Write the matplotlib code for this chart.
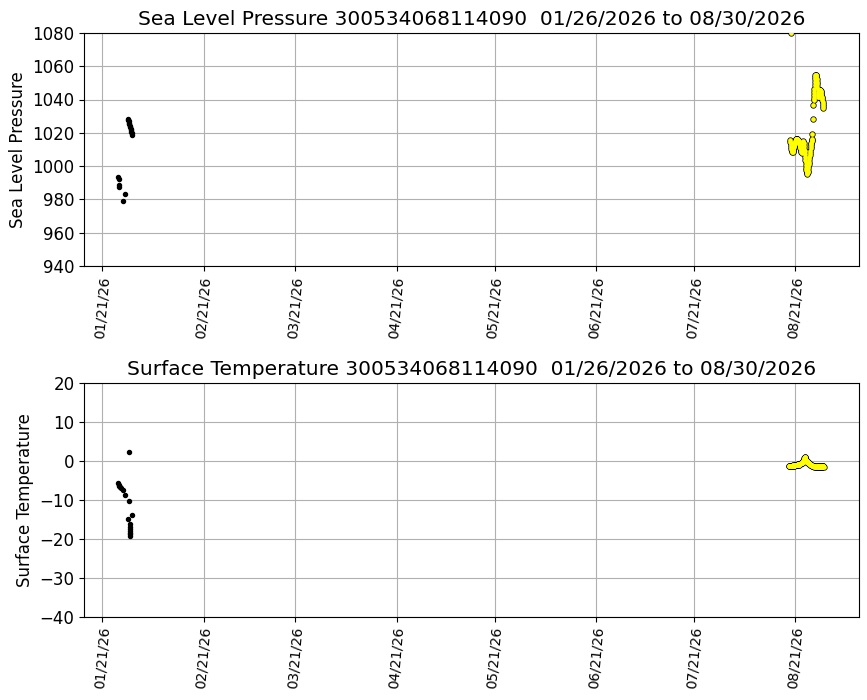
import matplotlib
matplotlib.use("Agg")
import matplotlib.pyplot as plt
import matplotlib.dates as mdates
import pandas as pd
import numpy as np

# ---------------- data ----------------
black_base = "2026-01-25 00:00"
yellow_base = "2026-08-19 00:00"

# black series: pressure (hours since black_base, value)
blk_p_hours = [21, 23, 28, 29, 56, 68,
               90, 93, 96, 99, 102, 105, 108, 111, 114, 117, 120, 122]
blk_p_vals = [993.3, 992.2, 988.5, 987.5, 979.1, 983.5,
              1028.5, 1027.6, 1026.8, 1025.9, 1025.1, 1024.2, 1023.3, 1022.4,
              1021.5, 1020.6, 1019.6, 1018.8]

# black series: temperature
blk_t_hours = [19, 23, 26, 31, 41, 58, 68, 95, 98, 100, 106, 107, 108, 107,
               108, 107, 108, 122]
blk_t_vals = [-5.7, -6.1, -6.4, -6.8, -7.0, -7.4, -8.7, -14.9, 2.2, -10.3,
              -16.3, -16.9, -17.4, -17.9, -18.4, -18.9, -19.3, -13.8]

# yellow series: pressure (hours since yellow_base, value)
yel_p_hours = [9, 11, 13, 14, 15, 17, 19, 21, 23, 25, 27, 29, 31, 33, 35, 37,
               39, 41, 43, 45, 47, 49, 51, 53, 55, 57, 59, 61, 63, 65, 67, 69,
               71, 73, 75, 77, 79, 81, 83, 85, 87, 89, 91, 93, 95, 97, 99,
               101, 103, 105, 107, 109, 111, 113, 115, 117, 119, 121, 123,
               125, 127, 129, 131, 133, 135, 137, 139, 141, 143, 145, 147,
               149, 151, 153, 155, 157, 159, 161, 163, 165, 167, 169, 171,
               173, 177, 180, 181.5,
               183, 184.5, 186, 187.5, 189, 190.5, 192, 193.5, 195, 197, 199,
               201, 203, 205, 207, 209, 211, 213, 215, 217, 219, 221, 223,
               225, 227, 229, 231, 233, 235, 237, 239, 241, 243, 245, 247,
               249, 251, 253]
yel_p_vals = [1015.5, 1014.6, 1013.6, 1080.0, 1012.4, 1011.3, 1010.3, 1009.5,
              1008.8, 1008.5, 1008.6, 1009.2, 1009.9, 1010.5, 1011.2, 1011.9,
              1012.5, 1013.2, 1013.9, 1014.5, 1015.2, 1015.6, 1015.9, 1016.2,
              1016.4, 1016.5, 1016.5, 1016.4, 1016.2, 1015.9, 1015.6, 1015.2,
              1014.8, 1014.3, 1013.8, 1013.2, 1012.7, 1012.1, 1011.4, 1010.7,
              1010.0, 1009.3, 1008.7, 1008.2, 1008.0, 1008.9, 1010.2,
              1011.5, 1012.8, 1014.1, 1015.0, 1013.7, 1012.0, 1010.5, 1008.8,
              1007.2, 1005.5, 1003.8, 1002.2, 1000.5, 998.9, 997.5, 996.2,
              995.6, 995.5, 996.3, 997.3, 998.7, 1000.0, 1001.3, 1002.7,
              1004.0, 1005.3, 1006.7, 1008.0, 1009.3, 1010.7, 1012.0, 1013.0,
              1014.0, 1015.0, 1015.7, 1016.2,
              1019.5, 1028.5, 1036.8, 1039.5,
              1041.0, 1042.5, 1044.5, 1046.5, 1048.5, 1050.5, 1052.2, 1053.8,
              1054.7, 1055.0, 1054.5, 1053.5, 1052.2, 1050.8, 1049.2, 1047.5,
              1045.8, 1044.2, 1042.5, 1041.3, 1041.5, 1042.5, 1043.7, 1044.8,
              1045.6, 1046.0, 1045.5, 1045.0, 1044.3, 1043.6, 1042.8, 1041.8,
              1040.8, 1039.8, 1038.7, 1037.5, 1036.2, 1034.8]

# yellow series: temperature
yel_t_hours = [0, 2.5, 5, 7.5, 10, 12.5, 15, 17.5, 20, 22.5, 25, 27.5, 30,
               32.5, 35, 37.5, 40, 42.5, 45, 47.5, 50, 52.5, 55, 57.5, 60,
               62.5, 65, 67.5, 70, 72.5, 75, 77.5, 80, 82.5, 85, 87.5, 90,
               92.5, 95, 97.5, 100, 102.5, 105, 107.5, 110, 112.5, 115, 117.5,
               120, 122.5, 125, 127.5, 130, 132.5, 135, 137.5, 140, 142.5, 145,
               147.5, 150, 152.5, 155, 157.5, 160, 162.5, 165, 167.5, 170,
               172.5, 175, 177.5, 180, 182.5, 185, 187.5, 190, 192.5, 195,
               197.5, 200, 202.5, 205, 207.5, 210, 212.5, 215, 217.5, 220,
               222.5, 225, 227.5, 230, 232.5, 235, 237.5, 240, 242.5, 245,
               247.5, 250, 252.5, 255]
yel_t_vals = [-1.4, -1.35, -1.3, -1.25, -1.2, -1.3, -1.4, -1.35, -1.3, -1.25,
              -1.2, -1.15, -1.1, -1.2, -1.3, -1.25, -1.2, -1.15, -1.1, -1.05,
              -1.0, -1.05, -1.1, -1.05, -1.0, -0.95, -0.9, -0.85, -0.8, -0.9,
              -1.0, -0.95, -0.9, -0.8, -0.7, -0.6, -0.5, -0.55, -0.6, -0.45,
              -0.3, -0.15, 0.0, 0.2, 0.4, 0.7, 1.0, 1.1, 0.6, 0.3, 0.0, -0.2,
              -0.15, -0.1, -0.25, -0.4, -0.5, -0.55, -0.6, -0.65, -0.7, -0.8,
              -0.9, -0.95, -1.0, -1.05, -1.1, -1.15, -1.2, -1.25, -1.3, -1.35,
              -1.4, -1.45, -1.5, -1.45, -1.4, -1.45, -1.5, -1.55, -1.6, -1.55,
              -1.5, -1.45, -1.4, -1.45, -1.5, -1.55, -1.6, -1.55, -1.5, -1.45,
              -1.4, -1.45, -1.5, -1.55, -1.6, -1.55, -1.5, -1.45, -1.4, -1.45,
              -1.5]

imei = "300534068114090"
date_range_txt = "01/26/2026 to 08/30/2026"
tick_dates = ["2026-01-21", "2026-02-21", "2026-03-21", "2026-04-21",
              "2026-05-21", "2026-06-21", "2026-07-21", "2026-08-21"]
xlim_dates = ["2026-01-15 10:00", "2026-09-09 12:00"]
p_ticks = [940, 960, 980, 1000, 1020, 1040, 1060, 1080]
t_ticks = [-40, -30, -20, -10, 0, 10, 20]


def to_time(base, hours):
    return pd.Timestamp(base) + pd.to_timedelta(np.array(hours, dtype=float), unit="h")


# ---------------- plot ----------------
fig = plt.figure(figsize=(8.67, 7.0), dpi=100)
ax1 = fig.add_axes([0.097, 0.620, 0.894, 0.333])
ax2 = fig.add_axes([0.097, 0.119, 0.894, 0.334])

panels = [
    (ax1, "Sea Level Pressure", blk_p_hours, blk_p_vals, yel_p_hours, yel_p_vals, p_ticks),
    (ax2, "Surface Temperature", blk_t_hours, blk_t_vals, yel_t_hours, yel_t_vals, t_ticks),
]

for ax, name, bh, bv, yh, yv, yt in panels:
    ax.plot(to_time(black_base, bh), bv, linestyle="none", marker="o",
            markersize=2.9, color="black", zorder=3)
    ty = to_time(yellow_base, yh)
    # outline layer, then a yellow fill layer on top -> blob with black outline
    ax.plot(ty, yv, linestyle="none", marker="o",
            markersize=3.4, markerfacecolor="yellow", markeredgecolor="black",
            markeredgewidth=1.1, zorder=3)
    ax.plot(ty, yv, linestyle="none", marker="o",
            markersize=3.4, markerfacecolor="yellow", markeredgewidth=0,
            zorder=4)
    ax.set_ylim(yt[0], yt[-1])
    ax.set_yticks(yt)
    ax.set_xlim(pd.Timestamp(xlim_dates[0]), pd.Timestamp(xlim_dates[1]))
    ax.set_xticks([pd.Timestamp(d) for d in tick_dates])
    ax.xaxis.set_major_formatter(mdates.DateFormatter("%m/%d/%y"))
    ax.tick_params(axis="x", labelsize=10, labelrotation=85)
    ax.tick_params(axis="y", labelsize=12)
    ax.grid(True, color="#b0b0b0", linewidth=0.8)
    ax.set_axisbelow(True)
    ax.set_ylabel(name, fontsize=12)
    ax.set_title(f"{name} {imei}  {date_range_txt}", fontsize=14.5)

fig.savefig("out.png", dpi=100)
